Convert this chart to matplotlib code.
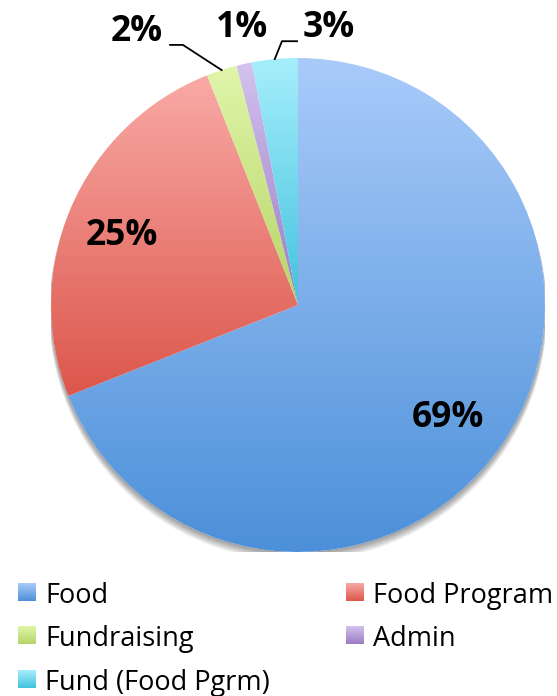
import numpy as np
import matplotlib
matplotlib.use("Agg")
import matplotlib.pyplot as plt
from matplotlib.patches import Circle
from matplotlib.colors import to_rgb

# Budget shares (percent)
categories = ["Food", "Food Program", "Fundraising", "Admin", "Fund (Food Pgrm)"]
values = [69, 25, 2, 1, 3]

# Gradient colours per slice: (top, bottom)
grad_top = ["#a9cbfa", "#f9aaa6", "#e0f5aa", "#d3c2ee", "#a6eefc"]
grad_bottom = ["#4c90d9", "#dc564b", "#b6d566", "#9a7cc3", "#42c2de"]

W, H, DPI = 557, 696, 100
fig = plt.figure(figsize=(W / DPI, H / DPI), dpi=DPI)
fig.patch.set_facecolor("white")

# Pie axes: centre (298, 305) px, radius 247 px
cx, cy, R = 298, 305, 247
ax = fig.add_axes([(cx - R) / W, (H - cy - R) / H, 2 * R / W, 2 * R / H])
ax.set_xlim(-1, 1)
ax.set_ylim(-1, 1)
ax.set_aspect("equal")
ax.axis("off")


def gradient(top, bottom, n=256):
    t = np.linspace(0, 1, n)[:, None, None]
    a = np.array(to_rgb(top))[None, None, :]
    b = np.array(to_rgb(bottom))[None, None, :]
    return a * (1 - t) + b * t


# soft drop shadow falling below the pie
for j in range(1, 11):
    ax.add_patch(Circle((0.0, -0.003 * j), 1.0 + 0.0008 * j, color="black",
                        alpha=0.045, lw=0, zorder=0))
ax.add_patch(Circle((0, 0), 1.0, color="white", lw=0, zorder=0.5))

wedges, _ = ax.pie(values, startangle=90, counterclock=False, radius=1.0,
                   colors=["none"] * len(values),
                   wedgeprops=dict(linewidth=0))

for w, top, bot in zip(wedges, grad_top, grad_bottom):
    ext = w.get_path().get_extents()
    im = ax.imshow(gradient(top, bot), extent=(ext.x0, ext.x1, ext.y0, ext.y1),
                   origin="upper", aspect="auto", interpolation="bilinear", zorder=1)
    im.set_clip_path(w)
ax.set_xlim(-1, 1)
ax.set_ylim(-1, 1)

label_font = dict(family=["Open Sans", "DejaVu Sans"], fontweight="bold",
                  fontsize=25.5, color="black", ha="center", va="center", zorder=5)
label_pos = [(0.607, -0.457), (-0.715, 0.281), (-0.652, 1.105),
             (-0.227, 1.123), (0.123, 1.123)]
for v, (x, y) in zip(values, label_pos):
    ax.text(x, y, f"{v}%", clip_on=False, **label_font)

# leader lines for the thin slices
mids = [(w.theta1 + w.theta2) / 2 for w in wedges]
leaders = {2: [(-0.518, 1.053), (-0.466, 1.053)],
           4: [(-0.004, 1.068), (-0.065, 1.068)]}
for i, pts in leaders.items():
    ang = np.deg2rad(mids[i])
    xs = [p[0] for p in pts] + [np.cos(ang)]
    ys = [p[1] for p in pts] + [np.sin(ang)]
    ax.plot(xs, ys, color="black", lw=1.3, clip_on=False, zorder=4)

# legend drawn in pixel coordinates
lg = fig.add_axes([0, 0, 1, 1], zorder=3)
lg.set_xlim(0, W)
lg.set_ylim(H, 0)
lg.axis("off")
lg.patch.set_alpha(0)
col_x = [18, 346]
row_base = [603, 646, 690]
for i, name in enumerate(categories):
    col = i % 2
    row = i // 2
    sx = col_x[col]
    by = row_base[row]
    lg.imshow(gradient(grad_top[i], grad_bottom[i]),
              extent=(sx, sx + 18, by - 2, by - 20), origin="upper",
              aspect="auto", interpolation="bilinear")
    lg.text(sx + 27, by, name, fontsize=19.5, family=["Open Sans", "DejaVu Sans"],
            ha="left", va="baseline", color="black")
lg.set_xlim(0, W)
lg.set_ylim(H, 0)

fig.savefig("out.png", dpi=DPI, facecolor="white")
